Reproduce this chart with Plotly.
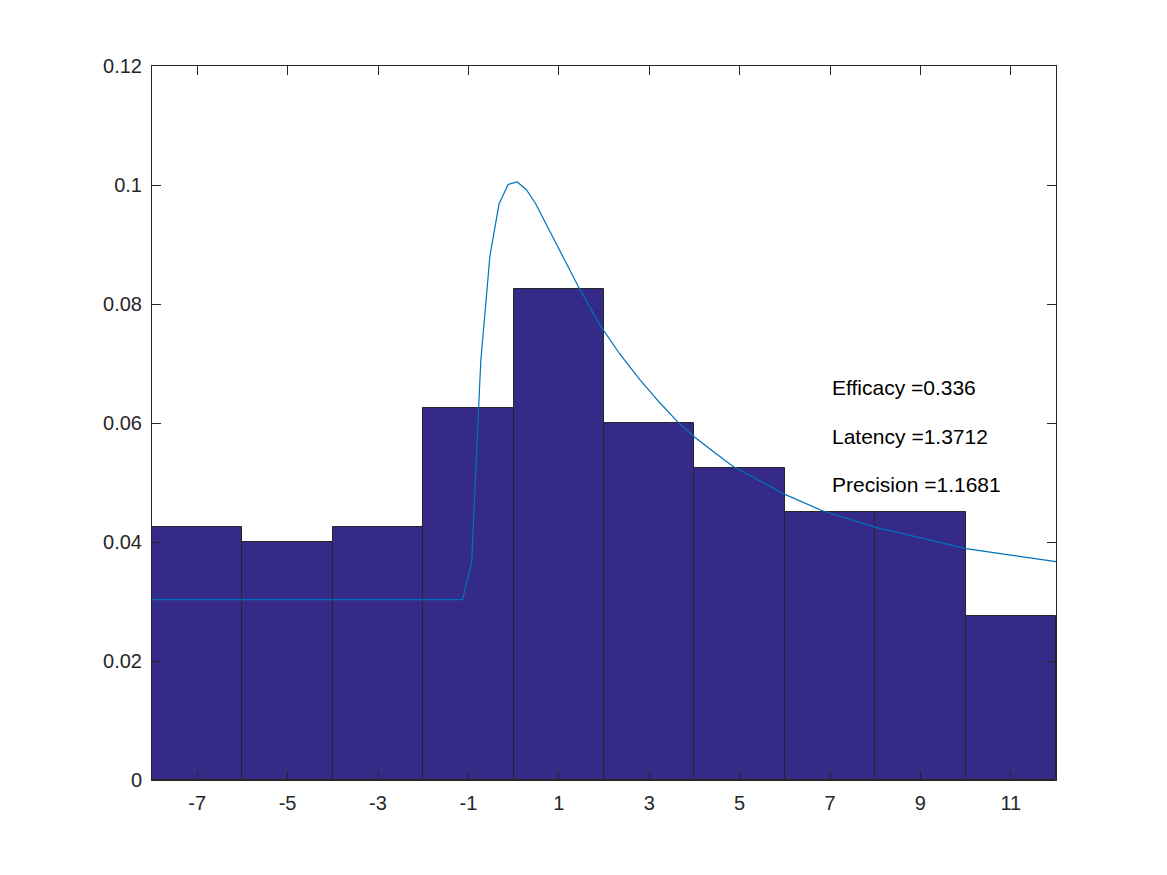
import plotly.graph_objects as go

# Histogram (density) bins
bin_centers = [-7, -5, -3, -1, 1, 3, 5, 7, 9, 11]
bin_heights = [0.0425, 0.0400, 0.0425, 0.0625, 0.0825, 0.0600, 0.0525, 0.0450, 0.0450, 0.0275]
bin_width = 2

# Fitted curve points
curve_x = [-8.0, -1.131, -0.929, -0.727, -0.525, -0.323, -0.121, 0.081, 0.283, 0.485,
           0.687, 1.059, 1.449, 1.907, 2.350, 2.792, 3.235, 3.640, 4.009, 4.452,
           4.857, 5.742, 6.001, 6.848, 7.992, 9.060, 10.006, 11.000, 12.000]
curve_y = [0.0303, 0.0303, 0.0365, 0.0703, 0.0880, 0.0968, 0.1001, 0.1005, 0.0992, 0.0969,
           0.0939, 0.0883, 0.0827, 0.0765, 0.0716, 0.0673, 0.0634, 0.0601, 0.0576, 0.0550,
           0.0527, 0.0491, 0.0480, 0.0452, 0.0425, 0.0406, 0.0389, 0.0378, 0.0367]

# Tick labels
x_tickvals = [-7, -5, -3, -1, 1, 3, 5, 7, 9, 11]
x_ticktext = ["-7", "-5", "-3", "-1", "1", "3", "5", "7", "9", "11"]
y_tickvals = [0, 0.02, 0.04, 0.06, 0.08, 0.10, 0.12]
y_ticktext = ["0", "0.02", "0.04", "0.06", "0.08", "0.1", "0.12"]

# Annotation text
labels = ["Efficacy =0.336", "Latency =1.3712", "Precision =1.1681"]
label_x = 7.0
label_y = [0.0659, 0.0577, 0.0496]

fig = go.Figure()
fig.add_trace(go.Bar(
    x=bin_centers, y=bin_heights, width=[bin_width] * len(bin_centers),
    marker=dict(color="#352A87", line=dict(color="#262626", width=1)),
    showlegend=False, hoverinfo="skip",
))
fig.add_trace(go.Scatter(
    x=curve_x, y=curve_y, mode="lines",
    line=dict(color="#0072BD", width=1.2),
    showlegend=False,
))

for t, yy in zip(labels, label_y):
    fig.add_annotation(x=label_x, y=yy, text=t, showarrow=False,
                       xanchor="left", yanchor="middle",
                       font=dict(family="Liberation Sans, Arial, sans-serif", size=21, color="#000000"))

axis_common = dict(
    showline=True, linecolor="#262626", linewidth=1, mirror="ticks",
    ticks="inside", ticklen=9, tickcolor="#262626", tickwidth=1,
    showgrid=False, zeroline=False,
    tickfont=dict(family="Liberation Sans, Arial, sans-serif", size=20, color="#262626"),
)

fig.update_layout(
    width=1167, height=875,
    margin=dict(l=144, r=119, t=58, b=103, pad=0),
    paper_bgcolor="white", plot_bgcolor="white",
    bargap=0,
    xaxis=dict(range=[-8, 12], tickmode="array", tickvals=x_tickvals, ticktext=x_ticktext,
               ticklabelstandoff=5, **axis_common),
    yaxis=dict(range=[0, 0.12], tickmode="array", tickvals=y_tickvals, ticktext=y_ticktext,
               ticklabelstandoff=5, **axis_common),
)

fig.write_html("out.html")
